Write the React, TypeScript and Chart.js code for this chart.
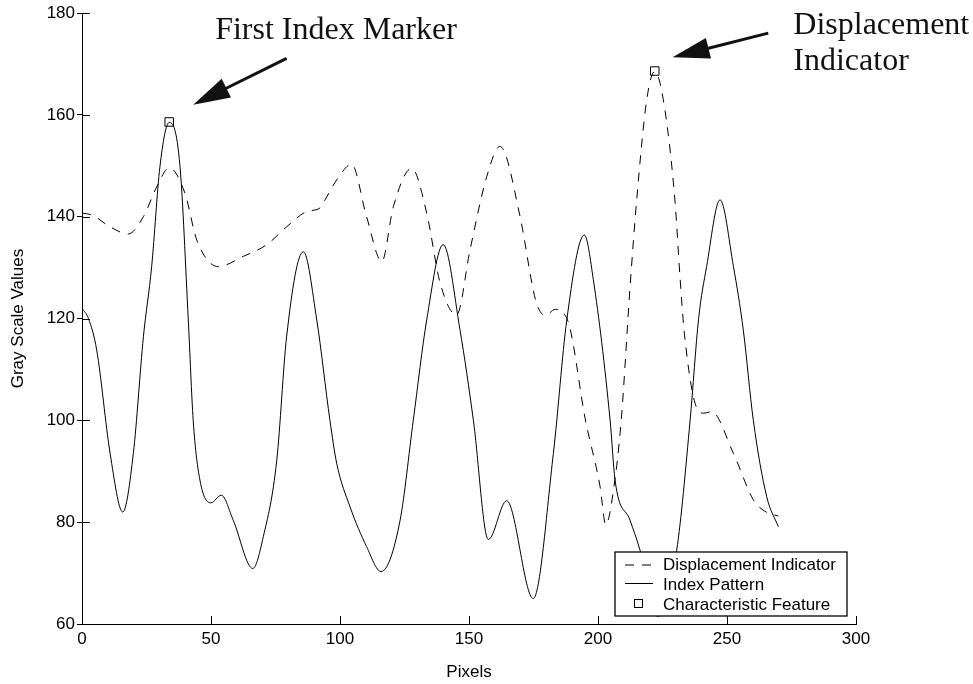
import React, { useEffect, useRef } from 'react';
import { Chart, registerables } from 'chart.js';

Chart.register(...registerables);

// ---- Data ----
const indexPatternX = [0, 2.5, 5.7, 10.9, 15.8, 19.9, 23.8, 27, 30.2, 33.8, 38, 41.2, 43.1, 45.7, 50, 54, 58.6, 66.2, 70.3, 75.5, 79.3, 85.8, 91, 96.1, 98.7, 103.9, 110.3, 115.9, 123.3, 128.4, 133.6, 140, 146.5, 151.7, 157.5, 164.6, 174.9, 182.7, 187.9, 194.7, 198.2, 204.7, 206.6, 212.4, 216.3, 223, 230.5, 235.7, 239, 242.1, 247.3, 252.5, 256.3, 260.2, 265.4, 269.9];
const indexPatternY = [122, 120, 113.8, 93.5, 82, 93.5, 116.4, 130.2, 149.8, 158.5, 149.8, 119.7, 100, 88.3, 83.8, 85.3, 80.4, 70.9, 77.2, 92.2, 116.4, 133.1, 119.7, 100, 91.6, 83, 75.2, 70.3, 80.4, 100, 119.7, 134.5, 117.8, 100, 76.6, 84.2, 65, 93.5, 119.7, 136.4, 127.6, 100, 88.3, 80.4, 74.5, 61.5, 74.5, 100, 120, 130.2, 143.3, 130.2, 117.8, 100, 85, 79.1];

const displacementX = [0, 4, 10.9, 17.9, 23.8, 29, 33.8, 39.9, 44.5, 52.8, 62.5, 71.6, 79.3, 87.1, 92.2, 94.2, 98.7, 104.5, 110.3, 116.2, 120.7, 127.8, 133.6, 138.8, 145.2, 150.4, 156.9, 162, 169.8, 174.9, 176.5, 179.5, 183.5, 185.9, 189, 195, 200.8, 203, 206.2, 209, 212.4, 215, 218.9, 222, 225.3, 229.8, 231.8, 233.5, 238.2, 241, 244, 252.5, 260.2, 264.5, 269.9];
const displacementY = [140.7, 140.3, 138, 136.6, 140, 145.9, 149.6, 144.6, 135.4, 130.2, 132.2, 134.5, 138, 141, 141.7, 143.3, 147.2, 150.3, 140, 131.2, 142, 149.5, 140.7, 127, 120.7, 133.5, 147.9, 153.8, 140, 125.6, 122.5, 120.6, 121.8, 121.4, 118.4, 100.4, 87, 79.5, 87, 100, 126, 143.3, 163, 168.5, 163, 143.3, 128, 117, 102.5, 101.4, 101.7, 93.5, 84.4, 82.2, 81.2];

const featureX = [33.8, 222];
const featureY = [158.6, 168.6];

const xTicks = [0, 50, 100, 150, 200, 250, 300];
const yTicks = [60, 80, 100, 120, 140, 160, 180];

const seriesLabels = ['Displacement Indicator', 'Index Pattern', 'Characteristic Feature'];
const xTitle = 'Pixels';
const yTitle = 'Gray Scale Values';

// Annotation texts and anchor positions (in data units)
const note1Text = ['First Index Marker'];
const note2Text = ['Displacement', 'Indicator'];
const notes = {
  arrow1: { tail: [79.3, 171.1], tip: [43.1, 162.0] },
  arrow2: { tail: [266.0, 176.05], tip: [228.9, 171.3] },
  text1: { x: 51.6, y: [174.9] },
  text2: { x: 275.7, y: [175.85, 168.8] },
};

const SANS = '"Liberation Sans", Arial, Helvetica, sans-serif';
const SERIF = '"Liberation Serif", "Times New Roman", Times, serif';

function drawArrow(ctx: CanvasRenderingContext2D, x1: number, y1: number, x2: number, y2: number) {
  const dx = x2 - x1, dy = y2 - y1;
  const len = Math.hypot(dx, dy);
  const ux = dx / len, uy = dy / len;
  const headLen = 37, headHalf = 10.5;
  const bx = x2 - ux * headLen, by = y2 - uy * headLen;
  ctx.save();
  ctx.strokeStyle = '#111';
  ctx.fillStyle = '#111';
  ctx.lineWidth = 3;
  ctx.lineCap = 'butt';
  ctx.beginPath();
  ctx.moveTo(x1, y1);
  ctx.lineTo(bx + ux * 4, by + uy * 4);
  ctx.stroke();
  ctx.beginPath();
  ctx.moveTo(x2, y2);
  ctx.lineTo(bx - uy * headHalf, by + ux * headHalf);
  ctx.lineTo(bx + uy * headHalf, by - ux * headHalf);
  ctx.closePath();
  ctx.fill();
  ctx.restore();
}

const extrasPlugin = {
  id: 'extras',
  afterDraw(chart: any) {
    const { ctx, chartArea, scales } = chart;
    const xs = scales.x, ys = scales.y;
    ctx.save();
    // inward ticks
    ctx.strokeStyle = '#000';
    ctx.lineWidth = 1;
    ctx.beginPath();
    yTicks.forEach((v) => {
      const py = Math.round(ys.getPixelForValue(v)) + 0.5;
      ctx.moveTo(chartArea.left, py);
      ctx.lineTo(chartArea.left + 8, py);
    });
    xTicks.forEach((v) => {
      const px = Math.round(xs.getPixelForValue(v)) + 0.5;
      ctx.moveTo(px, chartArea.bottom);
      ctx.lineTo(px, chartArea.bottom - 8);
    });
    ctx.stroke();

    // arrows
    const a1 = notes.arrow1, a2 = notes.arrow2;
    drawArrow(ctx, xs.getPixelForValue(a1.tail[0]), ys.getPixelForValue(a1.tail[1]), xs.getPixelForValue(a1.tip[0]), ys.getPixelForValue(a1.tip[1]));
    drawArrow(ctx, xs.getPixelForValue(a2.tail[0]), ys.getPixelForValue(a2.tail[1]), xs.getPixelForValue(a2.tip[0]), ys.getPixelForValue(a2.tip[1]));

    // annotation text
    ctx.fillStyle = '#111';
    ctx.font = '32px ' + SERIF;
    ctx.textAlign = 'left';
    ctx.textBaseline = 'alphabetic';
    note1Text.forEach((t, i) => ctx.fillText(t, xs.getPixelForValue(notes.text1.x), ys.getPixelForValue(notes.text1.y[i])));
    note2Text.forEach((t, i) => ctx.fillText(t, xs.getPixelForValue(notes.text2.x), ys.getPixelForValue(notes.text2.y[i])));

    // legend
    const bw = 232, bh = 64;
    const bx = chartArea.right - 9 - bw;
    const by = chartArea.bottom - 8 - bh;
    ctx.fillStyle = '#fff';
    ctx.fillRect(bx, by, bw, bh);
    ctx.strokeStyle = '#000';
    ctx.lineWidth = 1.3;
    ctx.strokeRect(bx, by, bw, bh);

    ctx.lineWidth = 1;
    ctx.setLineDash([9, 8]);
    ctx.beginPath();
    ctx.moveTo(bx + 10, by + 13);
    ctx.lineTo(bx + 38, by + 13);
    ctx.stroke();
    ctx.setLineDash([]);
    ctx.beginPath();
    ctx.moveTo(bx + 10, by + 31.5);
    ctx.lineTo(bx + 38, by + 31.5);
    ctx.stroke();
    ctx.strokeRect(bx + 19.5, by + 47.5, 8, 8);

    ctx.fillStyle = '#000';
    ctx.font = '17px ' + SANS;
    ctx.fillText(seriesLabels[0], bx + 48, by + 18);
    ctx.fillText(seriesLabels[1], bx + 48, by + 38);
    ctx.fillText(seriesLabels[2], bx + 48, by + 57.5);
    ctx.restore();
  },
};

export default function App() {
  const ref = useRef<HTMLCanvasElement | null>(null);
  useEffect(() => {
    if (!ref.current) return;
    Chart.defaults.font.family = SANS;
    const chart = new Chart(ref.current, {
      type: 'line',
      data: {
        datasets: [
          {
            label: seriesLabels[0],
            data: displacementX.map((x, i) => ({ x, y: displacementY[i] })),
            borderColor: '#000',
            borderWidth: 1,
            borderDash: [9, 8],
            pointRadius: 0,
            cubicInterpolationMode: 'monotone',
            fill: false,
          },
          {
            label: seriesLabels[1],
            data: indexPatternX.map((x, i) => ({ x, y: indexPatternY[i] })),
            borderColor: '#000',
            borderWidth: 1,
            pointRadius: 0,
            cubicInterpolationMode: 'monotone',
            fill: false,
          },
          {
            label: seriesLabels[2],
            data: featureX.map((x, i) => ({ x, y: featureY[i] })),
            showLine: false,
            pointStyle: 'rect',
            pointRadius: 6,
            pointBorderWidth: 1,
            pointBorderColor: '#000',
            pointBackgroundColor: 'rgba(0,0,0,0)',
            borderColor: '#000',
            backgroundColor: 'rgba(0,0,0,0)',
            clip: false,
          } as any,
        ],
      },
      options: {
        animation: false,
        responsive: false,
        layout: { padding: { left: 0, top: 13, right: 117, bottom: 0 } },
        plugins: { legend: { display: false }, tooltip: { enabled: false } },
        scales: {
          x: {
            type: 'linear',
            min: 0,
            max: 300,
            afterFit: (s: any) => { s.height = 60; },
            afterBuildTicks: (s: any) => { s.ticks = xTicks.map((v) => ({ value: v })); },
            ticks: { color: '#000', font: { size: 17 }, padding: 5, maxRotation: 0 },
            grid: { display: false, drawTicks: false },
            border: { display: true, color: '#000', width: 1 },
            title: { display: true, text: xTitle, color: '#000', font: { size: 17 }, padding: { top: 0, bottom: 1 } },
          },
          y: {
            type: 'linear',
            min: 60,
            max: 180,
            afterFit: (s: any) => { s.width = 82; },
            afterBuildTicks: (s: any) => { s.ticks = yTicks.map((v) => ({ value: v })); },
            ticks: { color: '#000', font: { size: 17 }, padding: 2 },
            grid: { display: true, drawOnChartArea: false, drawTicks: true, tickLength: 5, color: '#000' },
            border: { display: true, color: '#000', width: 1 },
            title: { display: true, text: yTitle, color: '#000', font: { size: 17 }, padding: { top: 8, bottom: 0 } },
          },
        },
      } as any,
      plugins: [extrasPlugin],
    });
    return () => chart.destroy();
  }, []);
  return (
    <canvas
      ref={ref}
      width={973}
      height={684}
      style={{ position: 'absolute', left: 0, top: 0, width: 973, height: 684 }}
    />
  );
}
